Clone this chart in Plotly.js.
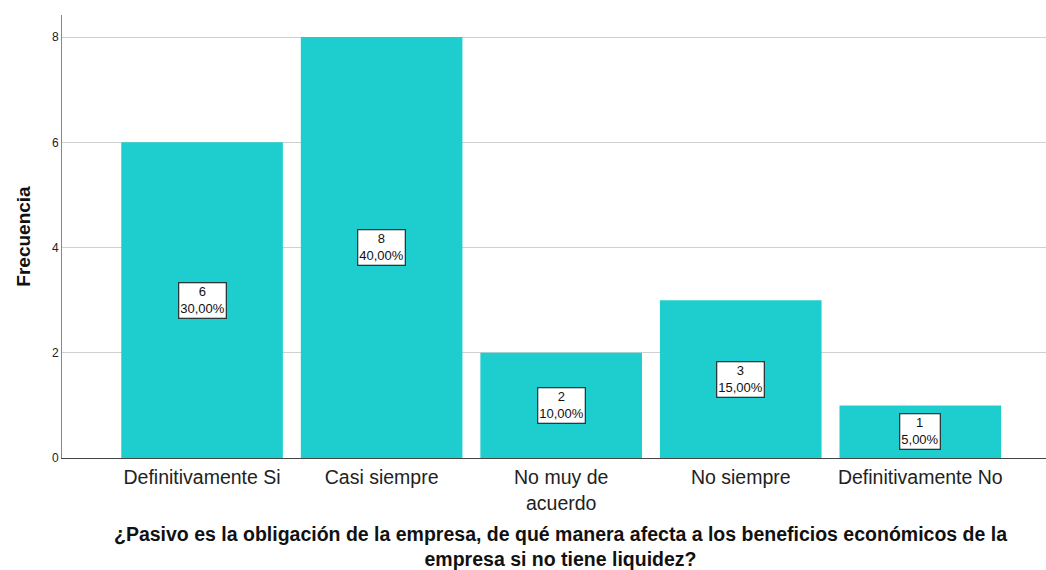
<!DOCTYPE html>
<html><head><meta charset="utf-8">
<script src="https://cdn.plot.ly/plotly-3.0.1.min.js"></script>
<style>body{margin:0;}#c{width:1046px;height:570px;}</style>
</head><body><div id="c"></div>
<script>
const categories = ["Definitivamente Si", "Casi siempre", "No muy de<br>acuerdo", "No siempre", "Definitivamente No"];
const frecuencia = [6, 8, 2, 3, 1];
const porcentajes = ["30,00%", "40,00%", "10,00%", "15,00%", "5,00%"];
const yTicks = [0, 2, 4, 6, 8];
const titleLines = ["¿Pasivo es la obligación de la empresa, de qué manera afecta a los beneficios económicos de la", "empresa si no tiene liquidez?"];

const FONT = 'Liberation Sans, Arial, sans-serif';
const annotations = categories.map((c, i) => ({
  x: c, y: frecuencia[i] / 2, xref: 'x', yref: 'y',
  text: frecuencia[i] + '<br>' + porcentajes[i],
  showarrow: false, bgcolor: '#ffffff', bordercolor: '#2a3a3a', borderwidth: 1.3, borderpad: 1,
  font: {family: FONT, size: 13, color: '#111'}
}));
annotations.push({
  xref: 'paper', yref: 'paper', x: 0.507, y: -0.2, 
  xanchor: 'center', yanchor: 'middle', showarrow: false, text: titleLines.join('<br>'),
  font: {family: FONT, size: 19.5, color: '#111', weight: 'bold'}
});

Plotly.newPlot('c', [{
  type: 'bar', x: categories, y: frecuencia,
  marker: {color: '#1ecece', line: {width: 0}},
  width: 0.9, hoverinfo: 'none'
}], {
  width: 1046, height: 570,
  margin: {l: 62, r: 0, t: 15, b: 112},
  paper_bgcolor: '#fff', plot_bgcolor: '#fff',
  showlegend: false,
  annotations: annotations,
  xaxis: {
    type: 'category', range: [-0.78, 4.70],
    showline: true, linecolor: '#444', linewidth: 1,
    ticks: 'outside', ticklen: 2, tickcolor: 'rgba(0,0,0,0)', showgrid: false,
    tickfont: {family: FONT, size: 19.5, color: '#222'}
  },
  yaxis: {
    range: [0, 8.42], tickvals: yTicks, ticktext: yTicks.map(String),
    showline: true, linecolor: '#888', linewidth: 1,
    ticks: 'outside', ticklen: 0, tickcolor: '#fff',
    showgrid: true, gridcolor: '#d0d0d0', gridwidth: 1, zeroline: false,
    tickfont: {family: FONT, size: 12, color: '#222'},
    title: {text: 'Frecuencia', font: {family: FONT, size: 19, color: '#111', weight: 'bold'}, standoff: 16}
  }
}, {staticPlot: true});
</script></body></html>
